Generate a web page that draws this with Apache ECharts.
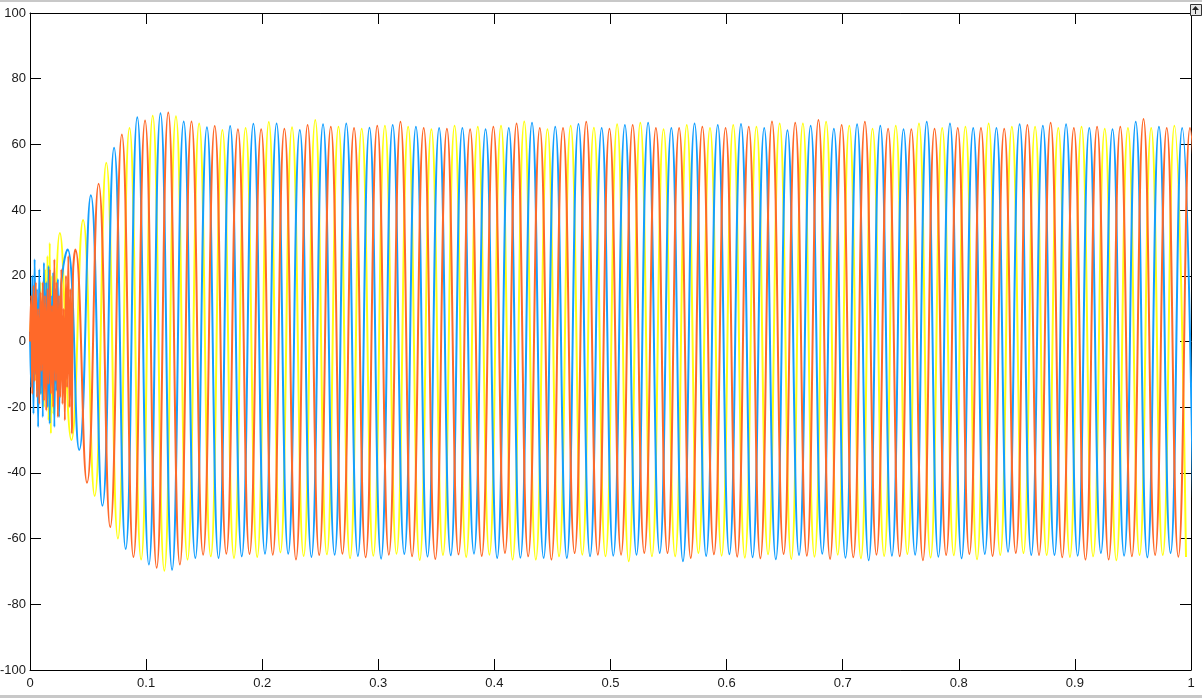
<!DOCTYPE html>
<html>
<head>
<meta charset="utf-8">
<script src="https://cdn.jsdelivr.net/npm/echarts@6/dist/echarts.min.js"></script>
<style>
html,body{margin:0;padding:0;background:#fff;}
#chart{width:1202px;height:698px;}
</style>
</head>
<body>
<div id="chart"></div>
<script>
// ---- data (three-phase signal, 50 Hz) ----
const seriesNames = ['Phase A', 'Phase B', 'Phase C'];
const seriesColors = ['#FFFF11', '#139FFF', '#FF6929'];

// start-up transient samples (one every NOISE_DT seconds from t = 0)
const NOISE_DT = 0.001;
const yellowNoise = [0, 8, -10, 14, -12, 6, -15, 12, -9, 18, -16, 10, -20, 22, -14, 26, -24, 30, -28, 20, -22];
const blueNoise = [3, -14, 20, -22, 25, -10, 16, -26, 22, -16, 12, -23, 24, -14, 18, -20, 23, -25, 14, -12, 21, -26, 16, -15, 19, -23, 12];
const orangeNoise = [0, 14, -16, 17, -12, 18, -17, 10, -19, 15, -9, 18, -18, 14, -21, 16, -13, 22, -16, 11, -20, 25, -12, 18, -23, 14, -17, 22, -19, 10, -24, 20, -14, 26, -20, 16, -28, 20];

// per-cycle extrema (cycle k = 1..49), period and time of cycle-0 peak of each phase
const PERIOD = 0.02;
const firstPeakTime = [0.0057, 0.0124, 0.0191];

const yellowPeaks = [33, 37, 54.4, 65, 68.7, 68.6, 66.4, 64.4, 65, 66.8, 65.2, 67.4, 65.4, 64.8, 65.7, 65.4, 64.6, 65.7, 65.4, 65.7, 67, 64.6, 65.7, 65.1, 66.1, 66.6, 64.6, 65.9, 65, 65.9, 65.4, 66.4, 66.4, 66.9, 65.7, 64.8, 65.7, 66.4, 65, 65.4, 66.4, 65.4, 65.4, 65, 65.4, 64.8, 65, 65, 65.7];
const yellowTroughs = [-30, -47, -60, -66.4, -69.8, -66.4, -65.4, -65.9, -65.6, -64.2, -65.3, -64.8, -66, -65.2, -64.6, -66.5, -65, -65.6, -64.9, -66.4, -66.4, -65.4, -64.9, -65.4, -66.9, -65.4, -65.4, -64.4, -65.2, -65.8, -64.8, -66.2, -65.5, -64.9, -66, -65.3, -64.7, -65.8, -65.1, -66.3, -65, -64.4, -65, -65.6, -65.4, -66.6, -65, -65, -65.6];

const bluePeaks = [28, 44.5, 59, 68.3, 69.5, 67, 65.2, 65.6, 66.3, 66.4, 64.4, 66.1, 66.4, 65.1, 65.9, 65.4, 65, 65, 64.6, 65, 66.6, 65.4, 66.2, 65, 65.9, 66.6, 65, 66.4, 65.9, 66.2, 65, 64.3, 65.7, 64.8, 66.1, 65.7, 64.6, 66.9, 66.4, 65, 65, 66.1, 65.7, 66.1, 65, 64.6, 66.9, 65.4, 65];
const blueTroughs = [-33, -50, -63.2, -67.9, -69.5, -65.9, -65.9, -65.4, -64.6, -64.6, -65.6, -64.9, -65.3, -66.1, -64.7, -65.5, -65.1, -64.6, -65.9, -65.8, -65.9, -65.9, -65.4, -65.2, -64.9, -64.4, -66.9, -65.3, -64.8, -65.7, -66.3, -65, -64.6, -65.8, -66.6, -65.2, -64.9, -65.5, -66, -64.7, -64, -65, -65, -65.2, -64.4, -65.2, -65.7, -64.4, -64.8];

const orangePeaks = [28, 48, 63, 67.3, 69.7, 67, 65.6, 64.6, 64.6, 64.8, 65.9, 65.4, 65, 65.7, 66.9, 65, 64.8, 64.6, 65.4, 66.4, 65, 65, 66.9, 64.8, 65.9, 65, 65, 65.4, 65, 65.4, 67, 66.6, 67.4, 65.9, 66.9, 64.8, 64.6, 64.8, 65, 65, 64.8, 65.9, 66.6, 65, 65.4, 65.4, 67.7, 65, 65];
const orangeTroughs = [-43, -56.5, -65.6, -68.9, -67.9, -64.9, -64.6, -64.7, -64.9, -66.4, -65, -64.6, -65.7, -64.9, -65.4, -66.2, -64.8, -65.3, -64.4, -65.4, -66.4, -64.4, -64.9, -64.9, -64.4, -64.4, -65.9, -64.8, -65.5, -66, -64.7, -65.2, -66.2, -65.7, -64.9, -65.4, -66.6, -65, -64.7, -65.3, -64.4, -65, -65.7, -66.4, -66.4, -65.4, -65, -65.5, -65];

const noiseSets = [yellowNoise, blueNoise, orangeNoise];
const peakSets = [yellowPeaks, bluePeaks, orangePeaks];
const troughSets = [yellowTroughs, blueTroughs, orangeTroughs];

// axis ranges / ticks
const X_MIN = 0, X_MAX = 1, X_STEP = 0.1;
const Y_MIN = -100, Y_MAX = 100, Y_STEP = 20;

function buildSeriesData(i) {
  const pts = [];
  noiseSets[i].forEach((v, j) => pts.push([j * NOISE_DT, v]));
  const t0 = firstPeakTime[i];
  peakSets[i].forEach((p, idx) => {
    const k = idx + 1;
    pts.push([t0 + k * PERIOD, p]);
    pts.push([t0 + k * PERIOD + PERIOD / 2, troughSets[i][idx]]);
  });
  return pts;
}

const labelStyle = { color: '#1a1a1a', fontSize: 13, fontFamily: 'Liberation Sans, Arial, sans-serif' };
const axLine = { show: true, onZero: false, lineStyle: { color: '#000', width: 1 } };
const axTick = { show: true, inside: true, length: 11, lineStyle: { color: '#000', width: 1 } };

const chart = echarts.init(document.getElementById('chart'), null, { renderer: 'canvas' });
chart.setOption({
  animation: false,
  backgroundColor: '#ffffff',
  grid: { left: 30, right: 11, top: 13, bottom: 28, containLabel: false, outerBoundsMode: 'none' },
  xAxis: [
    { type: 'value', position: 'bottom', min: X_MIN, max: X_MAX, interval: X_STEP,
      axisLine: axLine, axisTick: axTick, splitLine: { show: false },
      axisLabel: Object.assign({ margin: 7 }, labelStyle) },
    { type: 'value', position: 'top', min: X_MIN, max: X_MAX, interval: X_STEP,
      axisLine: axLine, axisTick: axTick, splitLine: { show: false },
      axisLabel: { show: false } }
  ],
  yAxis: [
    { type: 'value', position: 'left', min: Y_MIN, max: Y_MAX, interval: Y_STEP,
      axisLine: axLine, axisTick: axTick, splitLine: { show: false },
      axisLabel: Object.assign({ margin: 4 }, labelStyle) },
    { type: 'value', position: 'right', min: Y_MIN, max: Y_MAX, interval: Y_STEP,
      axisLine: axLine, axisTick: axTick, splitLine: { show: false },
      axisLabel: { show: false } }
  ],
  series: seriesNames.map((name, i) => ({
    name: name,
    type: 'line',
    xAxisIndex: 0,
    yAxisIndex: 0,
    data: buildSeriesData(i),
    showSymbol: false,
    smooth: 0.5,
    clip: true,
    lineStyle: { color: seriesColors[i], width: 2 },
    itemStyle: { color: seriesColors[i] },
    z: 2 + i
  })),
  graphic: [
    { type: 'rect', left: 0, top: 0, shape: { width: 1202, height: 2 }, style: { fill: '#c8c8c8' }, silent: true },
    { type: 'rect', left: 0, top: 695, shape: { width: 1202, height: 3 }, style: { fill: '#c8c8c8' }, silent: true },
    { type: 'rect', left: 1190, top: 4, shape: { x: 0, y: 0, width: 11, height: 11 }, style: { fill: '#e6e6e6', stroke: '#333', lineWidth: 1 }, silent: true, z: 10 },
    { type: 'polygon', left: 1192, top: 6, shape: { points: [[3.5, 0], [7, 4], [0, 4]] }, style: { fill: '#222' }, silent: true, z: 11 },
    { type: 'rect', left: 1195, top: 10, shape: { width: 1, height: 4 }, style: { fill: '#222' }, silent: true, z: 11 }
  ]
});
</script>
</body>
</html>
